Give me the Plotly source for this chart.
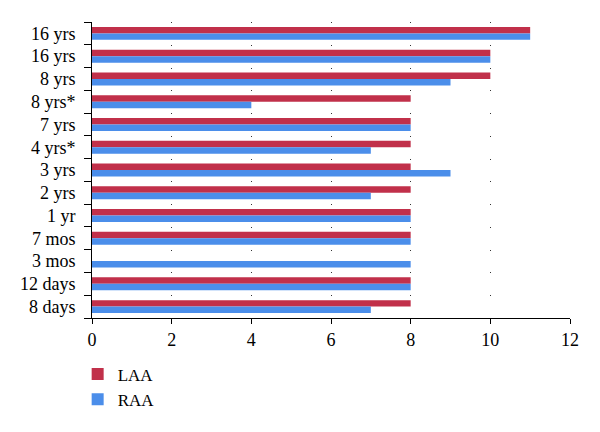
import plotly.graph_objects as go

labels = ["16 yrs", "16 yrs", "8 yrs", "8 yrs*", "7 yrs", "4 yrs*", "3 yrs",
          "2 yrs", "1 yr", "7 mos", "3 mos", "12 days", "8 days"]
laa = [11, 10, 10, 8, 8, 8, 8, 8, 8, 8, None, 8, 8]
raa = [11, 10, 9, 4, 8, 7, 9, 7, 8, 8, 8, 8, 7]
x_ticks = [0, 2, 4, 6, 8, 10, 12]

ids = [f"c{i}" for i in range(len(labels))]

RED = "#C1304A"
BLUE = "#4B8EEA"
FONT = "Liberation Serif"

fig = go.Figure()
fig.add_trace(go.Bar(y=ids, x=laa, orientation="h", name="LAA",
                     marker=dict(color=RED, line=dict(width=0))))
fig.add_trace(go.Bar(y=ids, x=raa, orientation="h", name="RAA",
                     marker=dict(color=BLUE, line=dict(width=0))))

# page body has an 8px offset
L, R, T, B = 84, 38, 14, 122
W, H = 600, 432
ph = H - T - B
step = ph / len(labels)

fig.update_layout(
    width=W, height=H,
    margin=dict(l=L, r=R, t=T, b=B, autoexpand=False),
    paper_bgcolor="white", plot_bgcolor="white",
    barmode="group", bargap=0.43, bargroupgap=0,
    font=dict(family=FONT, size=18, color="black"),
    legend=dict(x=-0.03, y=-0.13, xanchor="left", yanchor="top",
                orientation="v", font=dict(size=17, family=FONT),
                itemwidth=30, tracegroupgap=0),
    xaxis=dict(range=[0, 12], tickvals=x_ticks, showline=True, linecolor="black",
               linewidth=1, ticks="outside", ticklen=5, tickcolor="black",
               showgrid=True, gridcolor="#333333", gridwidth=1,
               griddash=f"1px,{step-1:.2f}px", zeroline=False, automargin=False,
               tickfont=dict(size=18, family=FONT)),
    yaxis=dict(type="category", autorange="reversed", tickmode="array",
               tickvals=ids, ticktext=labels, tickson="boundaries",
               showline=True, linecolor="black", linewidth=1, automargin=False,
               ticks="outside", ticklen=7, tickcolor="black", showgrid=False,
               ticklabelstandoff=12,
               tickfont=dict(size=18, family=FONT)),
)

fig.write_html("out.html")
